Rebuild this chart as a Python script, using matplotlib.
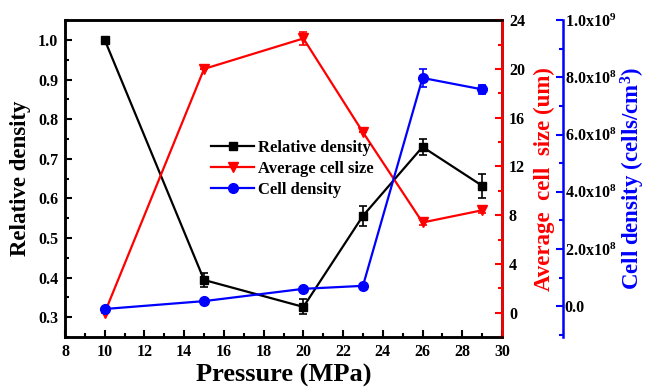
import numpy as np
import matplotlib
matplotlib.use("Agg")
import matplotlib.pyplot as plt
from matplotlib.lines import Line2D
from matplotlib.ticker import MultipleLocator, FixedLocator, FixedFormatter

plt.rcParams['font.family'] = 'Liberation Serif'
plt.rcParams['font.weight'] = 'bold'
plt.rcParams['mathtext.fontset'] = 'custom'
plt.rcParams['mathtext.bf'] = 'Liberation Serif:bold'
plt.rcParams['mathtext.rm'] = 'Liberation Serif:bold'
plt.rcParams['mathtext.default'] = 'bf'

# data
pressure = [10, 15, 20, 23, 26, 29]
rel_density = [1.0, 0.394, 0.326, 0.556, 0.730, 0.632]
rel_density_err = [0.0, 0.018, 0.019, 0.025, 0.020, 0.030]
cell_size = [0.0, 20.0, 22.5, 14.8, 7.4, 8.4]
cell_size_err = [0.0, 0.0, 0.5, 0.0, 0.2, 0.2]
cell_density = [-1.0e7, 1.75e7, 6.05e7, 7.1e7, 7.98e8, 7.58e8]
cell_density_err = [0.0, 0.0, 0.0, 0.0, 3.3e7, 1.6e7]

blue_ticks = [0, 2e8, 4e8, 6e8, 8e8, 1e9]
blue_labels = ['0.0', '2.0x10$^8$', '4.0x10$^8$', '6.0x10$^8$', '8.0x10$^8$', '1.0x10$^9$']

fig = plt.figure(figsize=(6.47, 3.88), dpi=100)
ax1 = fig.add_axes([0.1005, 0.1314, 0.6754, 0.8166])
ax2 = ax1.twinx()
ax3 = ax1.twinx()
ax3.spines['right'].set_position(('axes', 1.14))

lw = 1.6
ax1.errorbar(pressure, rel_density, yerr=rel_density_err, color='black', marker='s', ms=6,
             lw=lw, capsize=3, elinewidth=1.2, capthick=1.2)
ax2.errorbar(pressure, cell_size, yerr=cell_size_err, color='red', marker='v', ms=7,
             lw=lw, capsize=3, elinewidth=1.2, capthick=1.2)
ax3.errorbar(pressure, cell_density, yerr=cell_density_err, color='blue', marker='o', ms=7,
             lw=lw, capsize=3, elinewidth=1.2, capthick=1.2)

ax1.set_xlim(8, 30)
ax1.set_ylim(0.25, 1.05)
ax2.set_ylim(-2, 24)
ax3.set_ylim(-1.08e8, 1.0e9)

ax1.xaxis.set_major_locator(MultipleLocator(2))
ax1.xaxis.set_minor_locator(MultipleLocator(1))
ax1.yaxis.set_major_locator(FixedLocator([0.3, 0.4, 0.5, 0.6, 0.7, 0.8, 0.9, 1.0]))
ax1.yaxis.set_minor_locator(MultipleLocator(0.05))
ax2.yaxis.set_major_locator(MultipleLocator(4))
ax2.yaxis.set_minor_locator(MultipleLocator(2))
ax3.yaxis.set_major_locator(FixedLocator(blue_ticks))
ax3.yaxis.set_major_formatter(FixedFormatter(blue_labels))
ax3.yaxis.set_minor_locator(MultipleLocator(1e8))

fs = 11.5
ax1.tick_params(axis='both', which='major', direction='in', length=5, width=1.5, labelsize=fs, pad=5)
ax1.tick_params(axis='both', which='minor', direction='in', length=3, width=1.5)
ax1.tick_params(axis='x', which='both', top=False)
ax2.tick_params(axis='y', which='major', direction='in', length=5, width=1.5, labelsize=fs, pad=5, color='red')
ax2.tick_params(axis='y', which='minor', direction='in', length=3, width=1.5, color='red')
ax3.tick_params(axis='y', which='major', direction='in', length=5, width=1.5, labelsize=fs, pad=1, color='blue')
ax3.tick_params(axis='y', which='minor', direction='in', length=3, width=1.5, color='blue')

for sp in ax1.spines.values():
    sp.set_linewidth(1.8)
for sp in ax2.spines.values():
    sp.set_linewidth(1.8)
ax2.spines['right'].set_color('red')
for sp in ax3.spines.values():
    sp.set_linewidth(1.8)
ax3.spines['right'].set_color('blue')
ax3.spines['left'].set_visible(False)
ax3.spines['top'].set_visible(False)
ax3.spines['bottom'].set_visible(False)

ax1.set_xlabel('Pressure (MPa)', fontsize=19, fontweight='bold', labelpad=3)
ax1.set_ylabel('Relative density', fontsize=16.5, fontweight='bold', labelpad=5)
ax2.set_ylabel('Average  cell  size (um)', fontsize=16.5, fontweight='bold', color='red', labelpad=6)
ax3.set_ylabel('Cell density (cells/cm$^3$)', fontsize=16.5, fontweight='bold', color='blue', labelpad=2)

handles = [Line2D([], [], color='black', marker='s', ms=6, lw=lw),
           Line2D([], [], color='red', marker='v', ms=7, lw=lw),
           Line2D([], [], color='blue', marker='o', ms=7, lw=lw)]
ax3.legend(handles, ['Relative density', 'Average cell size', 'Cell density'],
           loc='upper left', bbox_to_anchor=(0.30, 0.67), frameon=False, fontsize=12,
           handlelength=2.6, labelspacing=0.3, handletextpad=0.2)

fig.savefig('out.png', dpi=100)
